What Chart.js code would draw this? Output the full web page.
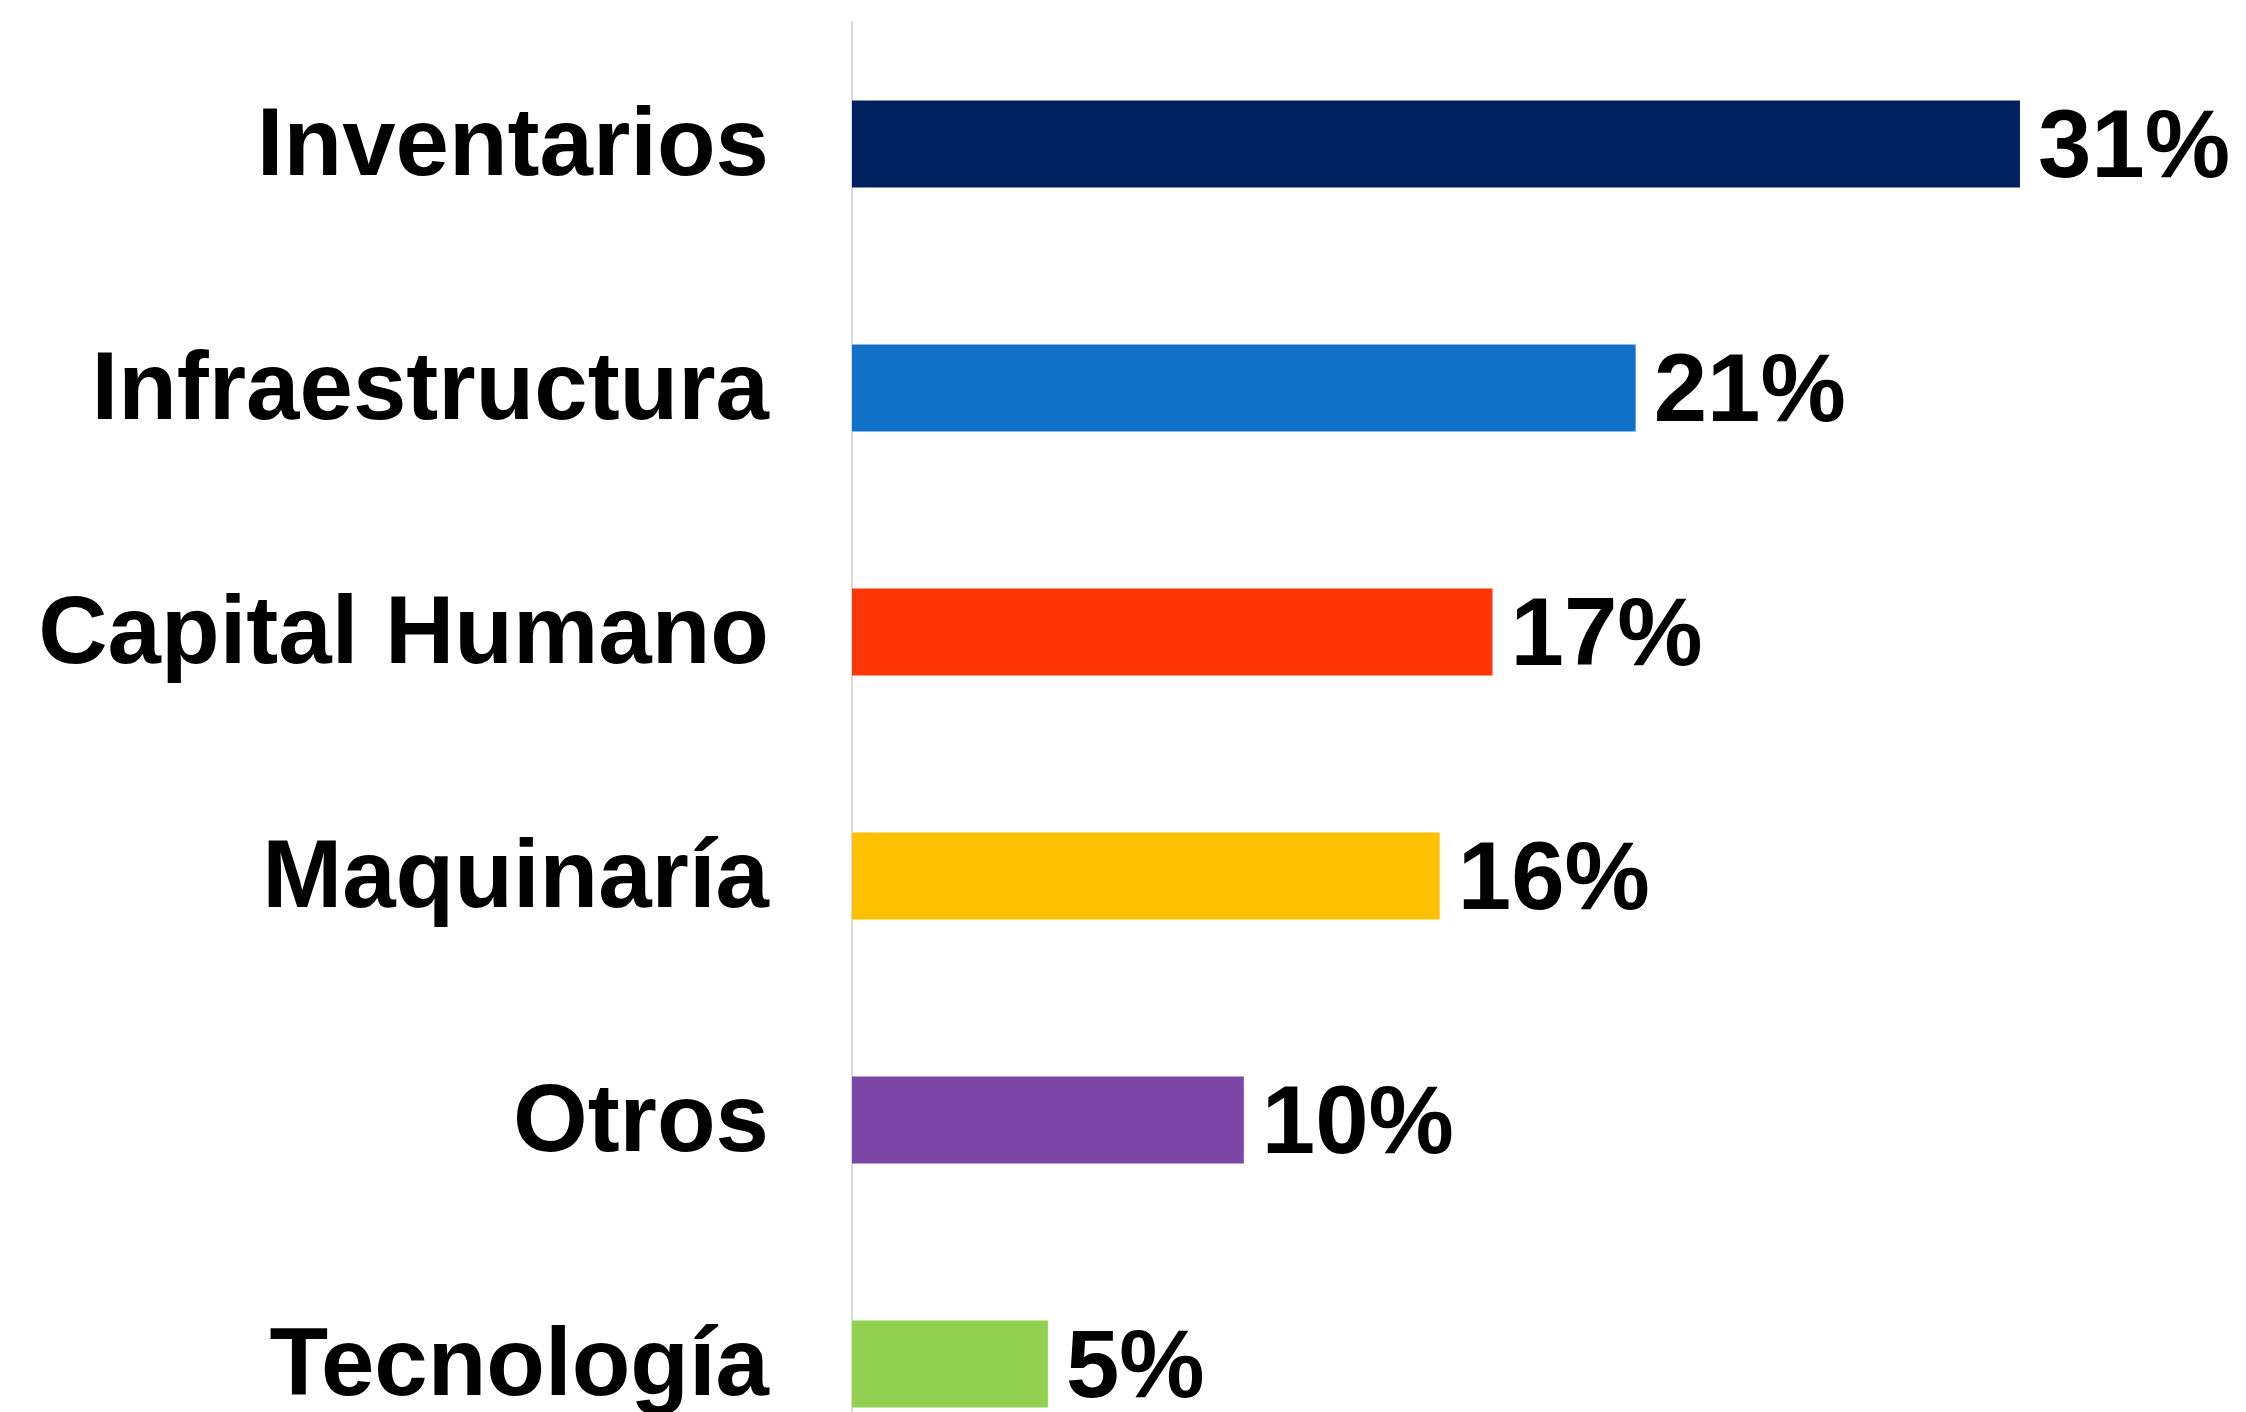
<!DOCTYPE html>
<html>
<head>
<meta charset="utf-8">
<script src="https://cdn.jsdelivr.net/npm/chart.js@4"></script>
<style>
    html, body { margin: 0; padding: 0; background: #fff; overflow: hidden; }
    #wrap { width: 2246px; height: 1490px; position: relative; }
</style>
</head>
<body>
<div id="wrap"><canvas id="chart"></canvas></div>
<script>
const categories = ['Inventarios', 'Infraestructura', 'Capital Humano', 'Maquinaría', 'Otros', 'Tecnología'];
const shares = [31.0, 20.8, 17.0, 15.6, 10.4, 5.2];
const shareLabels = ['31%', '21%', '17%', '16%', '10%', '5%'];
const barColors = ['#002060', '#1170C8', '#FF3508', '#FFC000', '#7B46A6', '#92D050'];

const FONT = '"Liberation Sans", Arial, sans-serif';

// draws the percentage at the end of each bar
const endLabels = {
    id: 'endLabels',
    afterDatasetsDraw(chart) {
        const ctx = chart.ctx;
        const meta = chart.getDatasetMeta(0);
        ctx.save();
        ctx.font = 'bold 96px ' + FONT;
        ctx.fillStyle = '#000';
        ctx.textAlign = 'left';
        ctx.textBaseline = 'middle';
        meta.data.forEach((bar, i) => {
            ctx.fillText(shareLabels[i], bar.x + 18, bar.y + 7);
        });
        ctx.restore();
    }
};

const ctx = document.getElementById('chart').getContext('2d');
new Chart(ctx, {
    type: 'bar',
    data: {
        labels: categories,
        datasets: [{
            data: shares,
            backgroundColor: barColors,
            borderWidth: 0,
            categoryPercentage: 1,
            barPercentage: 0.357
        }]
    },
    options: {
        indexAxis: 'y',
        responsive: true,
        maintainAspectRatio: false,
        animation: false,
        layout: { padding: { top: 22, bottom: 4, left: 0, right: 0 } },
        plugins: {
            legend: { display: false },
            tooltip: { enabled: false }
        },
        scales: {
            x: {
                display: false,
                min: 0,
                max: 37
            },
            y: {
                afterFit(scale) {
                    scale.width = 852;
                    // labels sit in the middle of the bands, no extra room needed
                    scale.paddingTop = 0;
                    scale.paddingBottom = 0;
                },
                grid: { display: true, drawOnChartArea: false, drawTicks: false, color: 'transparent' },
                border: { display: true, color: '#d9d9d9', width: 2 },
                ticks: {
                    padding: 83,
                    labelOffset: 5,
                    color: '#000',
                    font: { family: FONT, size: 96, weight: 'bold' }
                }
            }
        }
    },
    plugins: [endLabels]
});
</script>
</body>
</html>
